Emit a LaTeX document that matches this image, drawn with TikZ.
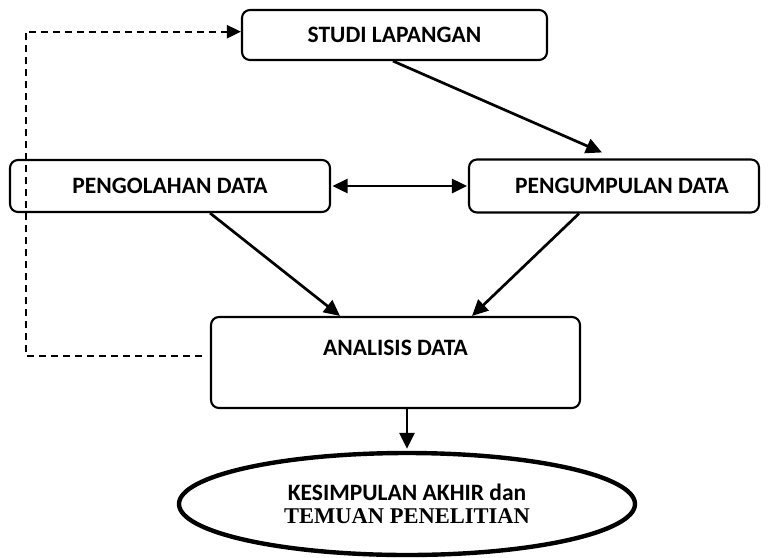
\documentclass[tikz,border=0pt]{standalone}
\usepackage{fontspec}
\newfontfamily\calfont{Carlito}
\newfontfamily\timesfont{Liberation Serif}
\usetikzlibrary{arrows.meta,shapes.geometric,calc}
\begin{document}
\begin{tikzpicture}[x=1pt,y=-1pt,
  box/.style={draw,line width=2.1pt,rounded corners=8pt,inner sep=0pt,
    font=\calfont\bfseries\fontsize{23.5}{27}\selectfont},
  ellbox/.style={draw,ellipse,line width=4.4pt,inner sep=0pt,align=center,
    font=\fontsize{23.5}{23}\selectfont},
  arr/.style={line width=2.7pt,-{Triangle[length=16pt,width=15pt]}},
  darr/.style={line width=2.7pt,{Triangle[length=15pt,width=14pt]}-{Triangle[length=15pt,width=14pt]}},
  dasharr/.style={line width=2.1pt,dash pattern=on 7pt off 5pt,-{Triangle[length=14pt,width=13pt]}}]
\useasboundingbox (0,0) rectangle (768,557);
\node[box,minimum width=305pt,minimum height=50pt] (studi) at (394.5,35) {STUDI LAPANGAN};
\node[box,minimum width=320pt,minimum height=52pt] (pengol) at (170,186) {PENGOLAHAN DATA};
\node[box,minimum width=290pt,minimum height=53pt] (pengum) at (614,186) {\hspace*{16pt}PENGUMPULAN DATA};
\node[box,minimum width=369pt,minimum height=91pt,text height=16pt,text depth=30pt] (ana) at (395.5,362.5) {ANALISIS DATA};
\node[ellbox,minimum width=456pt,minimum height=102pt] (ell) at (407,504)
  {{\calfont\bfseries KESIMPULAN AKHIR dan}\\{\timesfont\bfseries\fontsize{22.5}{23}\selectfont TEMUAN PENELITIAN}};
\coordinate (corner) at (25.7,31.7);
\draw[arr] ([xshift=-1.5pt]studi.south) -- ([xshift=-12pt,yshift=6pt]pengum.north);
\draw[darr] ([xshift=1.5pt]pengol.east) -- ([xshift=-1pt]pengum.west);
\draw[arr] ([xshift=40pt]pengol.south) -- ([xshift=-55.5pt]ana.north);
\draw[arr] ([xshift=-35pt]pengum.south) -- ([xshift=76.5pt]ana.north);
\draw[arr] (ell.north |- ana.south) -- ([yshift=2pt]ell.north);
\draw[dasharr] ([xshift=-8pt,yshift=6.5pt]ana.west) -| (corner) -- ([yshift=3.3pt]studi.west);
\end{tikzpicture}
\end{document}
